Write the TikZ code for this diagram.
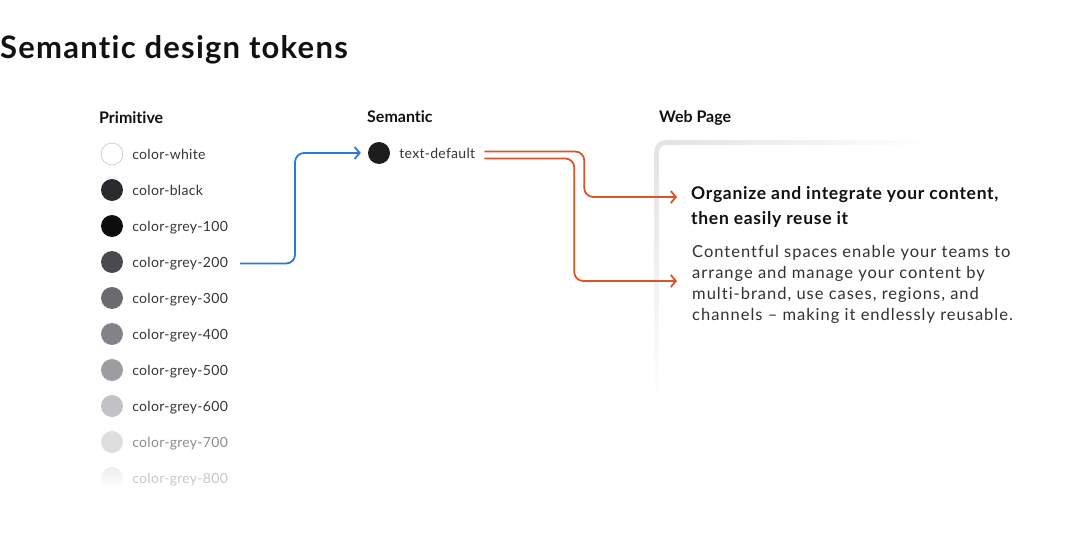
\documentclass[tikz,border=0pt]{standalone}
\usepackage{fontspec}
\setmainfont{Lato}[Ligatures={NoCommon}]
\usetikzlibrary{arrows.meta,positioning}
\definecolor{ink}{RGB}{17,17,17}
\definecolor{copy}{RGB}{50,50,52}
\definecolor{link}{RGB}{40,122,214}
\definecolor{ref}{RGB}{216,84,42}
\definecolor{cblack}{RGB}{42,43,47}
\definecolor{g100}{RGB}{13,13,13}
\definecolor{g200}{RGB}{74,75,79}
\definecolor{g300}{RGB}{106,107,111}
\definecolor{g400}{RGB}{130,131,136}
\definecolor{g500}{RGB}{155,157,161}
\definecolor{g600}{RGB}{192,194,197}
\definecolor{g700}{RGB}{220,222,224}
\definecolor{g800}{RGB}{236,237,238}

\begin{document}
\begin{tikzpicture}[x=1pt,y=-1pt,
    swatch/.style={circle,minimum size=22pt,inner sep=0pt},
    tok/.style={inner sep=0pt,anchor=west,text=ink!85,text height=10pt,text depth=3pt,
                yshift=-1.5pt,font=\fontsize{14}{17}\selectfont\addfontfeatures{LetterSpace=2}},
    head/.style={inner sep=0pt,anchor=base west,text=ink,
                 font=\fontsize{16}{19}\selectfont\bfseries},
    bl/.style={link,line width=1.8pt,rounded corners=9pt,
               -{Straight Barb[length=5pt,width=12pt]}},
    or/.style={ref,line width=1.8pt,rounded corners=9pt,
               -{Straight Barb[length=5pt,width=12pt]}}]
    \useasboundingbox (0,0) rectangle (1080,551);
    \node[inner sep=0pt,anchor=base west,text=ink,
          font=\fontsize{31}{36}\selectfont\bfseries\addfontfeatures{LetterSpace=4}]
      (title) at (0,59) {Semantic design tokens};
    % primitive column
    \node[head] (hp) at (99,124) {Primitive};
    \node[swatch,draw=black!30,fill=white] (p1) at (112,154) {};
    \node[swatch,fill=cblack] (p2) at (112,190) {};
    \node[swatch,fill=g100]   (p3) at (112,226) {};
    \node[swatch,fill=g200]   (p4) at (112,262) {};
    \node[swatch,fill=g300]   (p5) at (112,298) {};
    \node[swatch,fill=g400]   (p6) at (112,334) {};
    \node[swatch,fill=g500]   (p7) at (112,370) {};
    \node[swatch,fill=g600]   (p8) at (112,406) {};
    \node[swatch,fill=g700]   (p9) at (112,442) {};
    \node[swatch,top color=g800,bottom color=white] (p10) at (112,478) {};
    \node[tok,right=9pt of p1] (l1) {color-white};
    \node[tok,right=9pt of p2] (l2) {color-black};
    \node[tok,right=9pt of p3] (l3) {color-grey-100};
    \node[tok,right=9pt of p4] (l4) {color-grey-200};
    \node[tok,right=9pt of p5] (l5) {color-grey-300};
    \node[tok,right=9pt of p6] (l6) {color-grey-400};
    \node[tok,right=9pt of p7] (l7) {color-grey-500};
    \node[tok,right=9pt of p8] (l8) {color-grey-600};
    \node[tok,right=9pt of p9,text=black!45] (l9) {color-grey-700};
    \node[tok,right=9pt of p10,text=black!22] (l10) {color-grey-800};
    % semantic column
    \node[head] (hs) at (367,123) {Semantic};
    \node[swatch,fill=ink!95] (s1) at (379,153) {};
    \node[tok,right=9pt of s1] (t1) {text-default};
    % web page card
    \node[head] (hw) at (659,123) {Web Page};
    \shade[top color=black!11,bottom color=white] (654,152) rectangle (659,400);
    \shade[left color=black!11,right color=white] (666,140) rectangle (930,145);
    \draw[black!10,line width=5pt] (656.5,152) arc[start angle=180,end angle=270,radius=9.5];
    \fill[white] (659,400) -- (659,153) arc[start angle=180,end angle=270,radius=8]
      -- (1080,145) -- (1080,400) -- cycle;
    \node[inner sep=0pt,anchor=north west,align=left,text=ink,
          font=\fontsize{17.5}{25}\selectfont\bfseries\addfontfeatures{LetterSpace=4}]
      (card) at (691,186)
      {Organize and integrate your content,\\then easily reuse it};
    \node[inner sep=0pt,anchor=north west,align=left,text=copy,
          font=\fontsize{16.5}{21}\selectfont\addfontfeatures{LetterSpace=6}]
      (desc) at (692,245)
      {Contentful spaces enable your teams to\\arrange and manage your content by\\
       multi-brand, use cases, regions, and\\channels -- making it endlessly reusable.};
    \coordinate (cin) at (677,197);
    \coordinate (din) at (677,281);
    % connectors
    \draw[bl] ([xshift=12pt]l4.east) -- ++(55,0) |- ([xshift=-7pt]s1.west);
    \draw[or] ([xshift=9pt,yshift=3pt]t1.east) -- ++(100,0) |- (cin);
    \draw[or] ([xshift=9pt,yshift=-4pt]t1.east) -- ++(90,0) |- (din);
\end{tikzpicture}
\end{document}
